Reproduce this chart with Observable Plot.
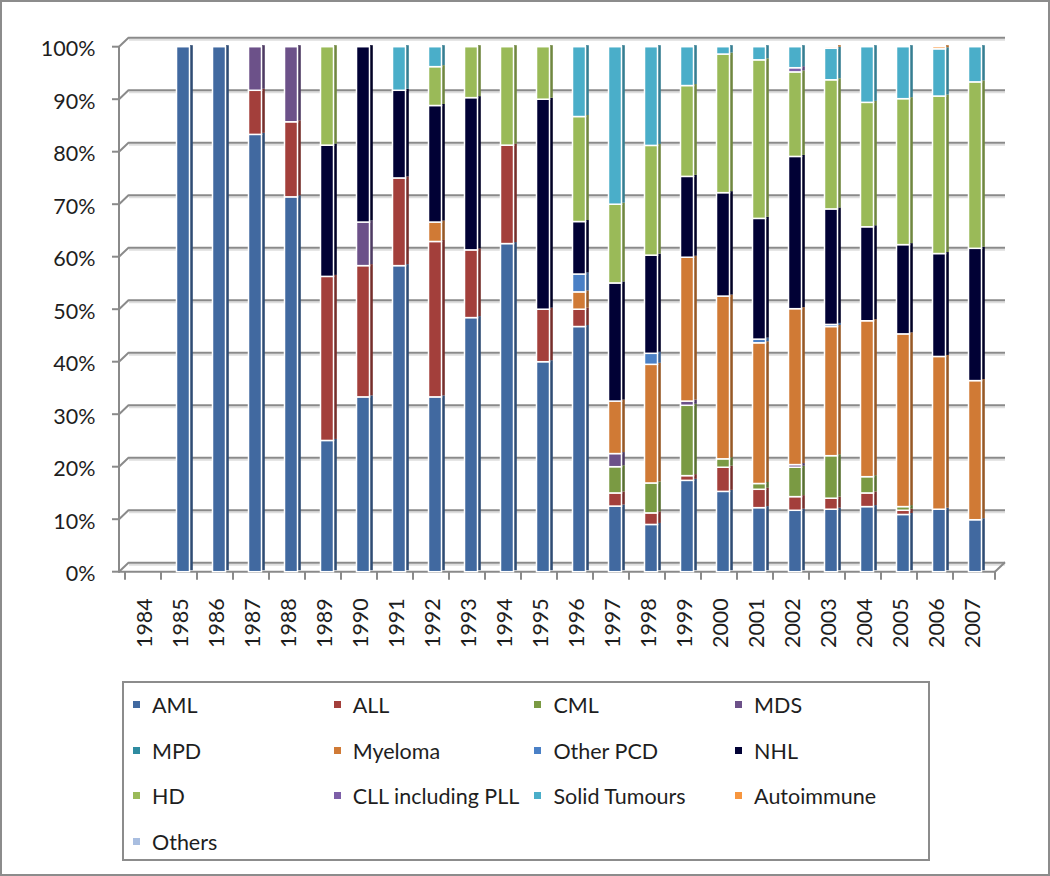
<!DOCTYPE html>
<html><head><meta charset="utf-8">
<script src="https://cdn.jsdelivr.net/npm/d3@7"></script>
<script src="https://cdn.jsdelivr.net/npm/@observablehq/plot@0.6"></script>
<style>
body{margin:0;background:#fff;}
#wrap{position:relative;width:1050px;height:876px;font-family:Lato,"Open Sans",sans-serif;color:#1e1e1e;}
#border{position:absolute;left:0;top:0;width:1050px;height:876px;box-sizing:border-box;border:2px solid #8c8c8c;pointer-events:none;}
#chart{position:absolute;left:0;top:0;}
#legend{position:absolute;left:122px;top:681px;width:808px;height:180px;box-sizing:border-box;border:2px solid #8c8c8c;}
.item{position:absolute;font-size:21.5px;line-height:24px;white-space:nowrap;}
.sw{position:absolute;width:7px;height:7px;}
</style></head>
<body><div id="wrap"><div id="chart"></div><div id="legend"></div><div id="border"></div></div>
<script>
const years = [1984,1985,1986,1987,1988,1989,1990,1991,1992,1993,1994,1995,1996,1997,1998,1999,2000,2001,2002,2003,2004,2005,2006,2007];
const categories = ["AML","ALL","CML","MDS","MPD","Myeloma","Other PCD","NHL","HD","CLL including PLL","Solid Tumours","Autoimmune","Others"];
const AML      = [0,100,100,83.3,71.4,25,33.3,58.3,33.3,48.4,62.5,40,46.7,12.5,9.0,17.4,15.3,12.2,11.7,11.9,12.4,10.9,11.9,9.9];
const ALL      = [0,0,0,8.4,14.3,31.25,25,16.7,29.6,12.9,18.75,10,3.3,2.5,2.2,0.9,4.6,3.5,2.6,2.1,2.6,0.8,0,0];
const CML      = [0,0,0,0,0,0,0,0,0,0,0,0,0,5,5.7,13.4,1.6,1.1,5.6,8.1,3.1,0.7,0,0];
const MDS      = [0,0,0,8.3,14.3,0,8.3,0,0,0,0,0,0,2.5,0,0.8,0,0,0.5,0,0,0,0,0];
const MPD      = [0,0,0,0,0,0,0,0,0,0,0,0,0,0,0,0,0,0,0,0,0,0,0,0];
const Myeloma  = [0,0,0,0,0,0,0,0,3.7,0,0,0,3.3,10,22.6,27.4,31,26.8,29.7,24.6,29.7,32.9,29.1,26.5];
const OtherPCD = [0,0,0,0,0,0,0,0,0,0,0,0,3.4,0,2.1,0,0,0.7,0,0.4,0,0,0,0];
const NHL      = [0,0,0,0,0,25,33.4,16.7,22.2,29.0,0,40,10,22.5,18.7,15.4,19.7,23,29,22,17.9,17,19.6,25.2];
const HD       = [0,0,0,0,0,18.75,0,0,7.4,9.7,18.75,10,20,15,20.9,17.3,26.4,30.2,16.1,24.6,23.7,27.8,30,31.7];
const CLL      = [0,0,0,0,0,0,0,0,0,0,0,0,0,0,0,0,0,0,0.8,0,0,0,0,0];
const Solid    = [0,0,0,0,0,0,0,8.3,3.8,0,0,0,13.3,30,18.8,7.4,1.4,2.5,4,6.0,10.6,9.9,9.0,6.7];
const Autoimm  = [0,0,0,0,0,0,0,0,0,0,0,0,0,0,0,0,0,0,0,0.3,0,0,0.4,0];
const Others   = [0,0,0,0,0,0,0,0,0,0,0,0,0,0,0,0,0,0,0,0,0,0,0,0];
const yTicks = [0,10,20,30,40,50,60,70,80,90,100];
const palette = ["#4169a0","#a33f3b","#7a9a43","#6c5189","#2e8ba0","#d07a35","#4a80c6","#010135","#9aba58","#7d5fa8","#4aaec9","#f7963f","#a9bee0"];

const series = [AML,ALL,CML,MDS,MPD,Myeloma,OtherPCD,NHL,HD,CLL,Solid,Autoimm,Others];
const table = [];
categories.forEach((c,i) => years.forEach((yr,j) => table.push({year:String(yr), category:c, value:series[i][j]})));
const colorOf = c => palette[categories.indexOf(c)];
const sideOf = c => d3.color(colorOf(c)).darker(0.9).formatHex();

const G = "#8a8a8a";
function skeleton(index, scales, values, dims) {
  const y = scales.y, x = scales.x;
  const L = dims.marginLeft, R = dims.width - dims.marginRight, B = dims.height - dims.marginBottom, T = dims.marginTop;
  const g = d3.create("svg:g").attr("stroke", G).attr("stroke-width", 2).attr("fill", "none");
  for (const v of yTicks) {
    g.append("line").attr("x1", L).attr("y1", y(v)).attr("x2", L + 10).attr("y2", y(v) - 9.5);
    g.append("line").attr("x1", L - 7).attr("y1", y(v)).attr("x2", L).attr("y2", y(v));
  }
  g.append("line").attr("x1", L).attr("y1", T).attr("x2", L).attr("y2", B + 1);
  g.append("line").attr("x1", L).attr("y1", B).attr("x2", R).attr("y2", B);
  g.append("line").attr("x1", R).attr("y1", B).attr("x2", R + 10).attr("y2", B - 9.5);
  const bounds = years.map(d => x(String(d))).concat([R]);
  for (const bx of bounds) g.append("line").attr("x1", bx).attr("y1", B).attr("x2", bx).attr("y2", B + 8);
  return g.node();
}

const plot = Plot.plot({
  width: 1050, height: 876,
  marginLeft: 119, marginRight: 55, marginTop: 46.7, marginBottom: 304.3,
  x: {type: "band", domain: years.map(String), padding: 0, axis: null, label: null},
  y: {domain: [0, 100], axis: null, label: null},
  color: {type: "identity"},
  style: {fontFamily: "Lato, 'Open Sans', sans-serif", fontSize: "21px", color: "#1e1e1e", background: "transparent"},
  marks: [
    Plot.ruleY(yTicks, {stroke: "#dedede", strokeWidth: 2, dx: 10, dy: -7.5}),
    Plot.ruleY(yTicks, {stroke: G, strokeWidth: 2, dx: 10, dy: -9.5}),
    skeleton,
    Plot.barY(table, Plot.stackY({x: "year", y: "value", z: "category", fill: d => sideOf(d.category), insetLeft: 29, insetRight: 4.2, dy: -1.5})),
    Plot.barY(table, Plot.stackY({x: "year", y: "value", z: "category", fill: d => colorOf(d.category), stroke: "white", strokeWidth: 1.5, insetLeft: 15.5, insetRight: 7.5})),
    Plot.axisY({ticks: yTicks, tickFormat: d => d + "%", tickSize: 0, tickPadding: 24, fontSize: 21.5, dy: 2, label: null}),
    Plot.axisX({tickRotate: -90, tickSize: 0, tickPadding: 26, fontSize: 21.5, dx: 2, label: null})
  ]
});
document.getElementById("chart").appendChild(plot);

const legend = d3.select("#legend");
categories.forEach((c, i) => {
  const col = i % 4, row = Math.floor(i / 4);
  const left = 9 + col * 200.7, cy = 22 + row * 45.6;
  legend.append("div").attr("class", "sw").style("left", left + "px").style("top", (cy - 4) + "px").style("background", palette[i]);
  legend.append("div").attr("class", "item").style("left", (left + 19) + "px").style("top", (cy - 12) + "px").text(c);
});
</script></body></html>
